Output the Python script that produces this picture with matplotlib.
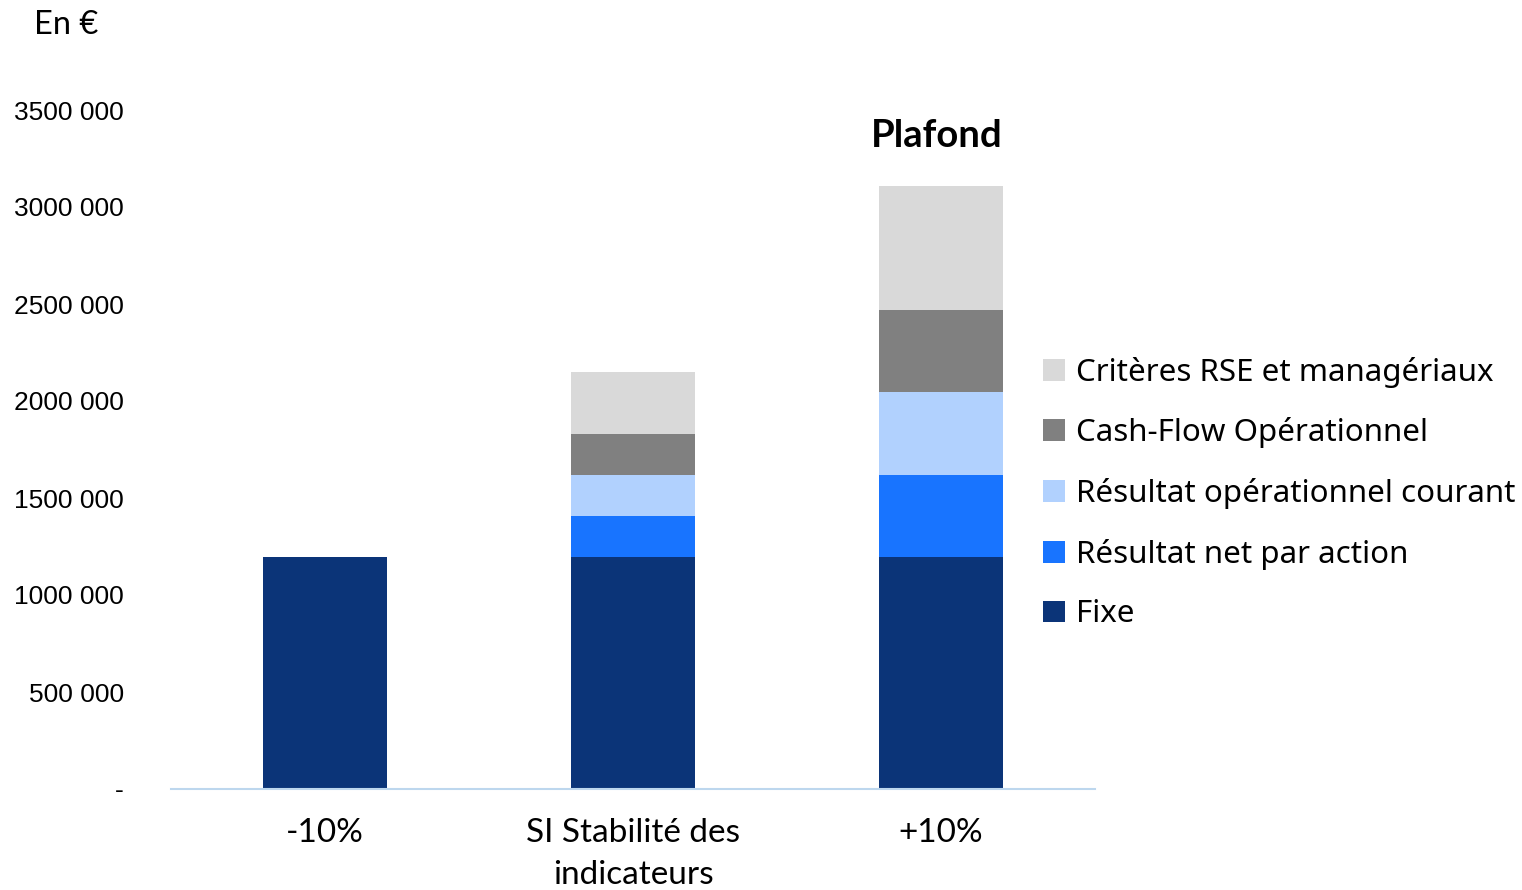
import matplotlib
matplotlib.use("Agg")
import matplotlib.pyplot as plt
from matplotlib.patches import Patch
from matplotlib.ticker import FixedLocator, FixedFormatter

categories = ["-10%", "SI Stabilité des\nindicateurs", "+10%"]
series_names = ["Fixe", "Résultat net par action", "Résultat opérationnel courant",
                "Cash-Flow Opérationnel", "Critères RSE et managériaux"]
fixe = [1195000, 1195000, 1195000]
rnpa = [0, 212000, 425000]
roc = [0, 210000, 426000]
cfo = [0, 211000, 421000]
rse = [0, 323000, 643000]
series_values = [fixe, rnpa, roc, cfo, rse]
colors = ["#0B3478", "#1874FF", "#B1D1FE", "#808080", "#D9D9D9"]
yticks = [0, 500000, 1000000, 1500000, 2000000, 2500000, 3000000, 3500000]
ytick_labels = ["-", "500 000", "1000 000", "1500 000", "2000 000", "2500 000", "3000 000", "3500 000"]

fig = plt.figure(figsize=(15.22, 8.90), dpi=100)
ax = fig.add_axes([171/1522, 1-789/890, (1095-171)/1522, (789-110)/890])

x = list(range(len(categories)))
bottom = [0]*len(categories)
for name, vals, c in zip(series_names, series_values, colors):
    ax.bar(x, vals, width=0.4, bottom=bottom, color=c, edgecolor="none", label=name, zorder=2)
    bottom = [b+v for b, v in zip(bottom, vals)]

ax.set_xlim(-0.5, 2.5)
ax.set_ylim(0, 3500000)
for s in ["top", "right", "left"]:
    ax.spines[s].set_visible(False)
ax.spines["bottom"].set_color("#BDD7EE")
ax.spines["bottom"].set_linewidth(1.5)
ax.yaxis.set_major_locator(FixedLocator(yticks))
ax.yaxis.set_major_formatter(FixedFormatter(ytick_labels))
ax.tick_params(axis="y", length=0, pad=34, labelsize=19)
for lab in ax.get_yticklabels():
    lab.set_fontfamily("Liberation Sans")
ax.set_xticks(x)
ax.set_xticklabels(categories, fontsize=24, fontfamily="Lato", linespacing=1.5)
ax.tick_params(axis="x", length=0, pad=21)

ax.text(1.985, bottom[2] + 170000, "Plafond", ha="center", va="bottom", fontsize=27.5,
        fontweight="bold", fontfamily="Lato")

fig.text(34/1522, 1-25/890, "En €", ha="left", va="center", fontsize=23.5, fontfamily="Lato")

handles = [Patch(facecolor=c, edgecolor="none") for c in colors][::-1]
labels = series_names[::-1]
fig.legend(handles, labels, loc="center left", bbox_to_anchor=(1043/1522, 1-493/890),
           frameon=False, prop={"family": "Noto Sans", "size": 22.5},
           handlelength=0.7, handleheight=0.7, handletextpad=0.35, labelspacing=0.95,
           borderpad=0, borderaxespad=0)

fig.savefig("out.png", dpi=100)
